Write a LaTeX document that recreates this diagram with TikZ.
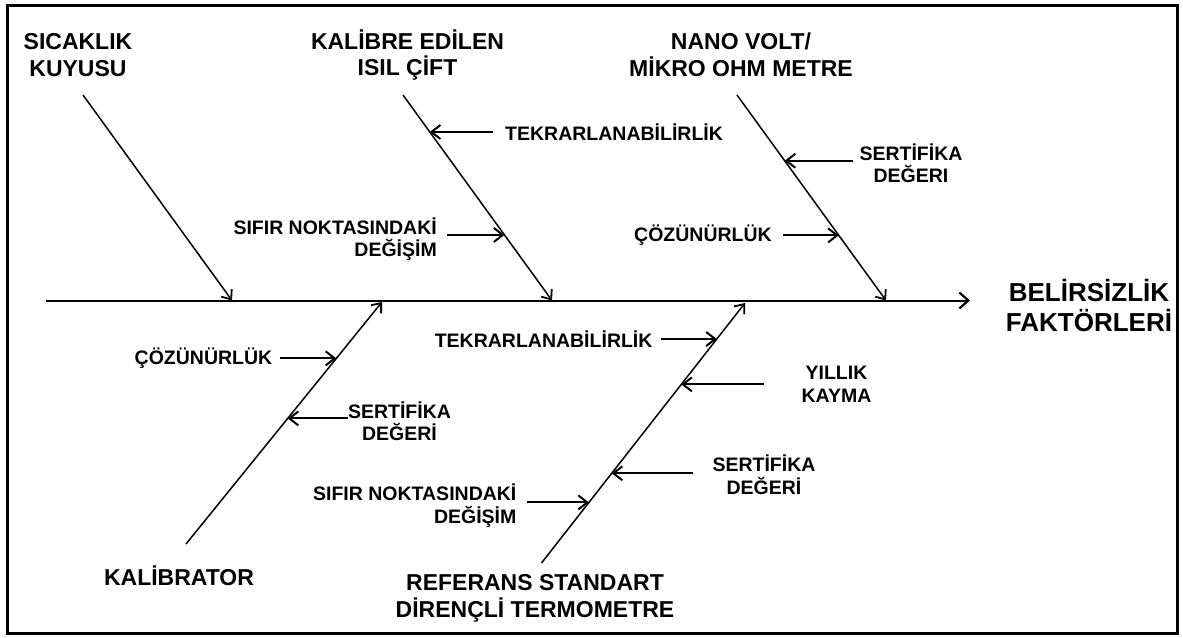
\documentclass[tikz,border=0pt]{standalone}
\usepackage{fontspec}
\setmainfont{Liberation Sans}
\usetikzlibrary{arrows.meta,calc}

\tikzset{
    bone/.style={line width=1.5pt, -{Straight Barb[length=8pt,width=13pt,line width=1.8pt]}},
    cause/.style={line width=1.9pt, -{Straight Barb[length=9pt,width=14pt,line width=2pt]}},
    catlbl/.style={font=\fontsize{23}{26.5}\selectfont\bfseries, align=center, inner sep=0pt},
    sublbl/.style={font=\fontsize{19.5}{22.5}\selectfont\bfseries, inner sep=0pt},
}

\begin{document}
\begin{tikzpicture}[x=1pt,y=-1pt]
    \useasboundingbox (0,0) rectangle (1183,637);
    \draw[line width=3pt] (7,5.5) rectangle (1177,633);

    % spine
    \coordinate (s0) at (46,300.5);
    \coordinate (s1) at (970,300.5);
    \draw[line width=2pt, -{Straight Barb[length=9pt,width=16pt,line width=2.2pt]}] (s0) -- (s1);
    \node[font=\fontsize{26}{30}\selectfont\bfseries, align=center, inner sep=0pt] (eff) at (1089,305.5) {BELİRSİZLİK\\FAKTÖRLERİ};

    % bones
    \coordinate (b1s) at (83,95);      \coordinate (b1e) at (232,300.5);
    \coordinate (b2s) at (403,95);     \coordinate (b2e) at (552,300.5);
    \coordinate (b3s) at (737,95);     \coordinate (b3e) at (886,300.5);
    \coordinate (b4s) at (186,544);    \coordinate (b4e) at (382,302);
    \coordinate (b5s) at (541.5,563);  \coordinate (b5e) at (745,303);
    \foreach \b in {b1,b2,b3,b4,b5}
        \draw[bone] (\b s) -- (\b e);

    \node[catlbl] (c1) at (78,55) {SICAKLIK\\KUYUSU};
    \node[catlbl] (c2) at (407.5,55) {KALİBRE EDİLEN\\ISIL ÇİFT};
    \node[catlbl] (c3) at (741,55) {NANO VOLT/\\MİKRO OHM METRE};
    \node[catlbl] (c4) at (179,576) {KALİBRATOR};
    \node[catlbl] (c5) at (535,598.5) {REFERANS STANDART\\DİRENÇLİ TERMOMETRE};

    % causes, upper side
    \node[sublbl, anchor=west] (tk1) at (505,132) {TEKRARLANABİLİRLİK};
    \node[sublbl, anchor=east, align=right] (sf1) at (437,239) {SIFIR NOKTASINDAKİ\\DEĞİŞİM};
    \node[sublbl, align=center] (sr1) at (911,163) {SERTİFİKA\\DEĞERI};
    \node[sublbl, anchor=east] (cz1) at (772,235) {ÇÖZÜNÜRLÜK};

    \coordinate (tk1p) at ($(b2s)!0.18!(b2e)$);
    \coordinate (sf1p) at ($(b2s)!0.681!(b2e)$);
    \coordinate (sr1p) at ($(b3s)!0.32!(b3e)$);
    \coordinate (cz1p) at ($(b3s)!0.683!(b3e)$);

    \draw[cause] (tk1p -| tk1.west) ++(-12,0) -- (tk1p);
    \draw[cause] (sf1p -| sf1.east) ++(10,0) -- (sf1p);
    \draw[cause] (sr1p -| sr1.west) ++(-6.5,0) -- (sr1p);
    \draw[cause] (cz1p -| cz1.east) ++(11,0) -- (cz1p);

    % causes, lower side
    \node[sublbl, anchor=east] (cz2) at (272.5,358) {ÇÖZÜNÜRLÜK};
    \node[sublbl, align=center] (sr2) at (399.5,421) {SERTİFİKA\\DEĞERİ};
    \node[sublbl, anchor=east] (tk2) at (652.7,339) {TEKRARLANABİLİRLİK};
    \node[sublbl, align=center] (yl) at (836.5,384.5) {YILLIK\\KAYMA};
    \node[sublbl, align=center] (sr3) at (764,474.5) {SERTİFİKA\\DEĞERİ};
    \node[sublbl, anchor=east, align=right] (sf2) at (516.6,505.5) {SIFIR NOKTASINDAKİ\\DEĞİŞİM};

    \coordinate (cz2p) at ($(b4s)!0.767!(b4e)$);
    \coordinate (sr2p) at ($(b4s)!0.519!(b4e)$);
    \coordinate (tk2p) at ($(b5s)!0.8615!(b5e)$);
    \coordinate (ylp) at ($(b5s)!0.687!(b5e)$);
    \coordinate (sr3p) at ($(b5s)!0.345!(b5e)$);
    \coordinate (sf2p) at ($(b5s)!0.233!(b5e)$);

    \draw[cause] (cz2p -| cz2.east) ++(7,0) -- (cz2p);
    \draw[cause] (sr2p -| sr2.west) -- (sr2p);
    \draw[cause] (tk2p -| tk2.east) ++(8,0) -- (tk2p);
    \draw[cause] (ylp -| yl.west) ++(-37,0) -- (ylp);
    \draw[cause] (sr3p -| sr3.west) ++(-19.5,0) -- (sr3p);
    \draw[cause] (sf2p -| sf2.east) ++(10,0) -- (sf2p);
\end{tikzpicture}
\end{document}
